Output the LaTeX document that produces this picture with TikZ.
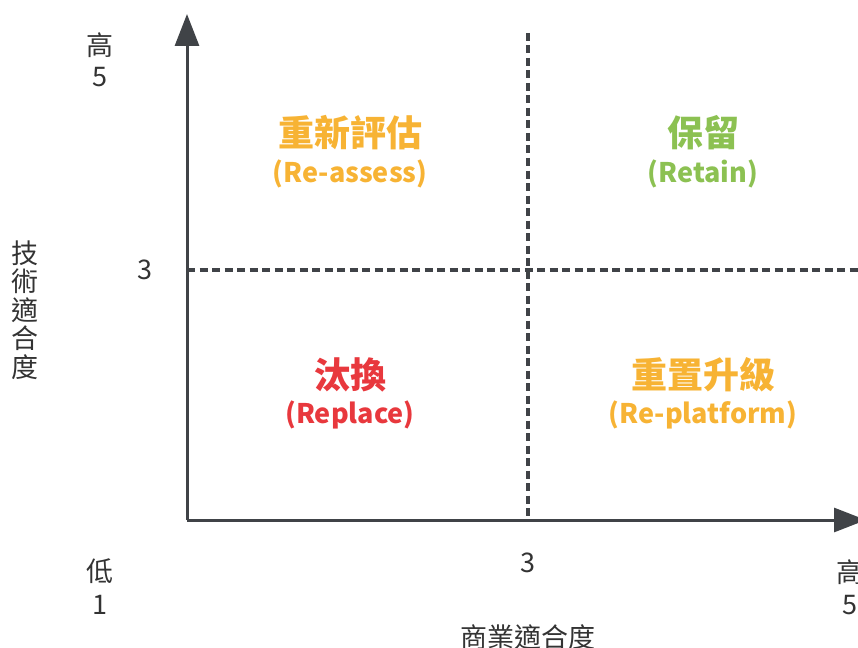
\documentclass[tikz,border=0pt]{standalone}
\usepackage{fontspec}
\setmainfont{Noto Sans CJK TC}
\usetikzlibrary{arrows.meta}
\definecolor{axisgray}{HTML}{404347}
\definecolor{qorange}{HTML}{F7B334}
\definecolor{qgreen}{HTML}{8CC152}
\definecolor{qred}{HTML}{E8383D}
\definecolor{lbl}{HTML}{333333}
\tikzset{
  axisline/.style={draw=axisgray, line width=3pt, -{Triangle[length=32pt,width=24pt]}},
  divline/.style={draw=axisgray, line width=3.5pt, dash pattern=on 8pt off 4.5pt},
  lab/.style={text=lbl, font=\fontsize{27}{29}\selectfont, inner sep=0pt},
  qtitle/.style={font=\fontsize{36}{38}\selectfont\bfseries, inner sep=0pt},
  qsub/.style={font=\fontsize{27}{29}\selectfont\bfseries, inner sep=0pt},
}
\begin{document}
\begin{tikzpicture}[x=1pt,y=-1pt]
\useasboundingbox (0,0) rectangle (858,647);
\coordinate (O) at (187,520);
\coordinate (ytip) at (187,14);
\coordinate (xtip) at (866,520);
\coordinate (vtop) at (528,33);
\coordinate (vbot) at (528,520);
\coordinate (hl) at (187,270);
\coordinate (hr) at (858,270);
\draw[divline] (vtop) -- (vbot);
\draw[divline] (hl) -- (hr);
\draw[axisline] (O) -- (ytip);
\draw[axisline] (O) -- (xtip);
% y labels
\node[lab] (yh) at (100,45) {高};
\node[lab] (y5) at (100,77) {5};
\node[lab] (y3) at (145,270) {3};
\node[lab, align=center, font=\fontsize{27}{28.5}\selectfont] (ytitle) at (25,310) {技\\術\\適\\合\\度};
% x labels
\node[lab] (xl) at (100,571) {低};
\node[lab] (x1) at (100,605) {1};
\node[lab] (x3) at (528,563) {3};
\node[lab] (xh) at (850,572) {高};
\node[lab] (x5) at (850,605) {5};
\node[lab] (xtitle) at (528,637) {商業適合度};
% quadrants
\node[qtitle, text=qorange] (q1) at (350,133) {重新評估};
\node[qsub, text=qorange] (q1s) at (350,174) {(Re-assess)};
\node[qtitle, text=qgreen] (q2) at (703,133) {保留};
\node[qsub, text=qgreen] (q2s) at (703,174) {(Retain)};
\node[qtitle, text=qred] (q3) at (350,375) {汰換};
\node[qsub, text=qred] (q3s) at (350,415) {(Replace)};
\node[qtitle, text=qorange] (q4) at (703,375) {重置升級};
\node[qsub, text=qorange] (q4s) at (703,415) {(Re-platform)};
\end{tikzpicture}
\end{document}
